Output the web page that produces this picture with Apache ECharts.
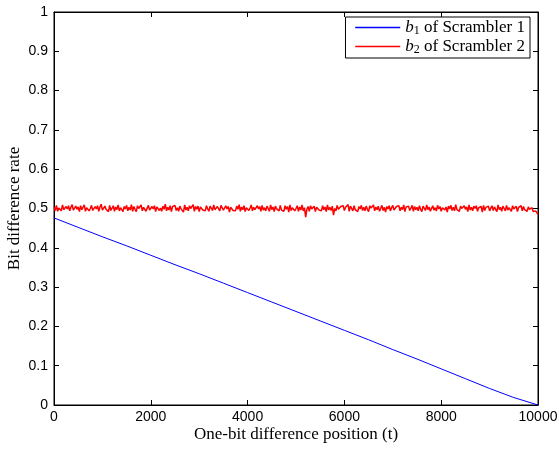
<!DOCTYPE html>
<html>
<head>
<meta charset="utf-8">
<title>Bit difference rate</title>
<script src="https://cdn.jsdelivr.net/npm/echarts@6/dist/echarts.min.js"></script>
<style>
  html, body { margin: 0; padding: 0; background: #fff; }
  #main { width: 559px; height: 451px; }
</style>
</head>
<body>
<div id="main"></div>
<script type="text/javascript">
// positions (t) of the b1 curve, and its rate values
var blueT = [0, 500, 1000, 1500, 2000, 2500, 3000, 3500, 4000, 4500, 5000,
             5500, 6000, 6500, 7000, 7500, 8000, 8500, 9000, 9500, 10000];
var blueRate = [0.476, 0.452, 0.428, 0.405, 0.381, 0.357, 0.334, 0.310, 0.286, 0.262, 0.238,
                0.214, 0.190, 0.166, 0.141, 0.117, 0.092, 0.067, 0.042, 0.019, 0.0];

// b2 rate, read every 25 positions from t = 0
var redStep = 25;
var redRate = [
  .503,.495,.508,.493,.501,.506,.494,.509,.497,.492,.505,.499,.507,.494,.503,.510,.496,.493,.506,.498,
  .504,.492,.507,.497,.495,.509,.493,.502,.506,.494,.500,.508,.495,.491,.505,.499,.507,.493,.504,.511,
  .496,.494,.506,.498,.503,.492,.508,.495,.501,.507,.493,.504,.497,.509,.494,.502,.506,.492,.505,.499,
  .508,.494,.503,.496,.510,.493,.505,.498,.492,.507,.500,.495,.509,.494,.503,.506,.493,.501,.508,.496,
  .494,.505,.499,.507,.492,.504,.509,.495,.501,.493,.506,.498,.511,.494,.503,.496,.507,.492,.505,.500,
  .508,.495,.502,.493,.506,.499,.504,.491,.509,.496,.503,.494,.507,.500,.495,.510,.493,.505,.498,.506,
  .492,.504,.508,.496,.501,.494,.507,.499,.493,.506,.502,.495,.509,.497,.492,.505,.500,.494,.508,.503,
  .496,.493,.507,.499,.505,.491,.503,.508,.495,.500,.494,.506,.498,.510,.493,.504,.497,.507,.492,.502,
  .506,.495,.501,.509,.494,.503,.497,.492,.507,.499,.505,.493,.508,.496,.502,.494,.506,.500,.493,.509,
  .497,.504,.492,.506,.499,.503,.494,.508,.496,.501,.493,.507,.498,.505,.491,.509,.495,.502,.506,.494,
  .500,.507,.493,.504,.496,.509,.494,.502,.478,.498,.505,.493,.507,.499,.495,.506,.492,.503,.508,.496,
  .501,.494,.507,.497,.504,.492,.509,.496,.503,.495,.506,.483,.500,.494,.508,.498,.493,.505,.501,.507,
  .495,.503,.498,.510,.493,.506,.500,.494,.507,.497,.502,.492,.505,.499,.508,.495,.503,.494,.506,.498,
  .492,.507,.501,.496,.509,.494,.504,.497,.506,.493,.500,.508,.495,.503,.491,.505,.499,.507,.494,.502,
  .508,.496,.493,.505,.500,.507,.494,.503,.497,.509,.492,.504,.499,.506,.495,.501,.508,.493,.505,.497,
  .503,.494,.507,.498,.492,.506,.501,.495,.509,.497,.504,.493,.500,.507,.496,.502,.494,.508,.499,.505,
  .493,.502,.507,.496,.504,.491,.506,.499,.508,.495,.503,.494,.510,.497,.501,.493,.506,.500,.495,.507,
  .498,.504,.492,.509,.496,.503,.494,.506,.500,.507,.493,.502,.497,.505,.491,.508,.495,.503,.499,.506,
  .494,.501,.507,.495,.504,.498,.492,.509,.497,.503,.493,.506,.500,.494,.508,.496,.502,.505,.493,.507,
  .499,.495,.506,.492,.503,.500,.507,.494,.505,.497,.501,.493,.504,.498,.495,.502,.492,.497,.494,.496,
  .485
];

var xTicks = { min: 0, max: 10000, interval: 2000 };
var yTicks = { min: 0, max: 1, interval: 0.1 };

var blueData = blueT.map(function (t, i) { return [t, blueRate[i]]; });
var redData = redRate.map(function (v, i) { return [i * redStep, v]; });

var myChart = echarts.init(document.getElementById('main'));

var serif = 'Liberation Serif';
var sans = 'Liberation Sans';
var blue = '#0000ff';
var red = '#ff0000';

var axisLine = { show: true, onZero: false, lineStyle: { color: '#000', width: 1 } };
var tick = { show: true, inside: true, length: 5, lineStyle: { color: '#000' } };

var legendRich = {
  b: { fontFamily: serif, fontStyle: 'italic', fontSize: 17, color: '#000' },
  s: { fontFamily: serif, fontSize: 12, color: '#000', padding: [7, 0, 0, 0] },
  n: { fontFamily: serif, fontSize: 17, color: '#000' }
};

var option = {
  animation: false,
  backgroundColor: '#fff',
  grid: {
    left: 54, right: 21, top: 12, bottom: 46,
    outerBoundsMode: 'none', containLabel: false,
    show: true, borderColor: '#000', borderWidth: 1
  },
  legend: {
    orient: 'vertical',
    right: 29,
    top: 17,
    padding: [2, 5, 2, 9],
    itemGap: 1,
    itemWidth: 45,
    itemHeight: 16,
    borderColor: '#000',
    borderWidth: 1,
    backgroundColor: '#fff',
    formatter: function (name) {
      var n = name === 'b1' ? '1' : '2';
      return '{b|b}{s|' + n + '}{n| of Scrambler ' + n + '}';
    },
    textStyle: { rich: legendRich },
    data: [
      { name: 'b1', itemStyle: { opacity: 0 }, lineStyle: { color: blue, width: 1.5 } },
      { name: 'b2', itemStyle: { opacity: 0 }, lineStyle: { color: red, width: 1.5 } }
    ]
  },
  xAxis: [{
    type: 'value',
    min: xTicks.min, max: xTicks.max, interval: xTicks.interval,
    name: 'One-bit difference position (t)',
    nameLocation: 'middle',
    nameGap: 21,
    nameMoveOverlap: false,
    nameTextStyle: { fontFamily: serif, fontSize: 17, color: '#000' },
    axisLine: axisLine,
    axisTick: tick,
    axisLabel: { fontFamily: sans, fontSize: 14, color: '#000', margin: 5, formatter: function (v) { return String(v); } },
    splitLine: { show: false }
  }, {
    type: 'value', position: 'top',
    min: xTicks.min, max: xTicks.max, interval: xTicks.interval,
    axisLine: axisLine, axisTick: tick, axisLabel: { show: false }, splitLine: { show: false }
  }],
  yAxis: [{
    type: 'value',
    min: yTicks.min, max: yTicks.max, interval: yTicks.interval,
    name: 'Bit difference rate',
    nameLocation: 'middle',
    nameGap: 31,
    nameMoveOverlap: false,
    nameTextStyle: { fontFamily: serif, fontSize: 17, color: '#000' },
    axisLine: axisLine,
    axisTick: tick,
    axisLabel: { fontFamily: sans, fontSize: 14, color: '#000', margin: 6 },
    splitLine: { show: false }
  }, {
    type: 'value', position: 'right',
    min: yTicks.min, max: yTicks.max, interval: yTicks.interval,
    axisLine: axisLine, axisTick: tick, axisLabel: { show: false }, splitLine: { show: false }
  }],
  series: [{
    name: 'b1',
    type: 'line',
    data: blueData,
    symbol: 'none',
    lineStyle: { color: blue, width: 1 },
    itemStyle: { color: blue },
    z: 3
  }, {
    name: 'b2',
    type: 'line',
    data: redData,
    symbol: 'none',
    lineStyle: { color: red, width: 1.5 },
    itemStyle: { color: red },
    z: 2
  }]
};

myChart.setOption(option);
</script>
</body>
</html>
